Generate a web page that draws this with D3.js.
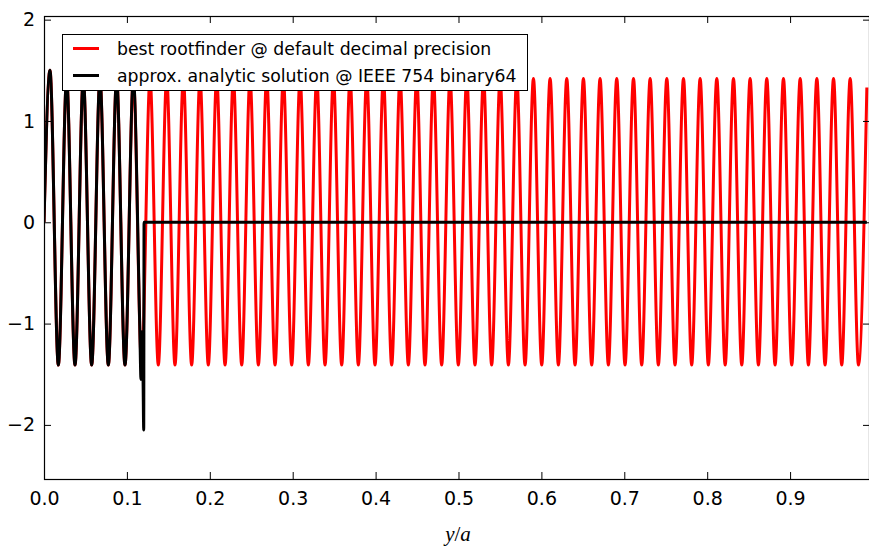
<!DOCTYPE html>
<html>
<head>
<meta charset="utf-8">
<script src="https://cdn.jsdelivr.net/npm/d3@7"></script>
<style>
  body { margin: 0; background: #fff; overflow: hidden; }
  svg { display: block; }
  .tick text { font-family: "DejaVu Sans", sans-serif; font-size: 19px; fill: #000; }
  .tick line { stroke: #000; stroke-width: 1; }
</style>
</head>
<body>
<div id="chart"></div>
<script>
// extrema of the red curve (start, then peak / trough alternating)
const redX = [0,
  0.0072, 0.0173, 0.0273, 0.0374, 0.0474, 0.0575, 0.0675, 0.0776, 0.0876, 0.0977,
  0.1078, 0.1178, 0.1279, 0.1379, 0.1480, 0.1580, 0.1681, 0.1781, 0.1882, 0.1982,
  0.2083, 0.2184, 0.2284, 0.2385, 0.2485, 0.2586, 0.2686, 0.2787, 0.2887, 0.2988,
  0.3089, 0.3189, 0.3290, 0.3390, 0.3491, 0.3591, 0.3692, 0.3792, 0.3893, 0.3993,
  0.4094, 0.4194, 0.4295, 0.4395, 0.4496, 0.4596, 0.4697, 0.4797, 0.4898, 0.4998,
  0.5100, 0.5199, 0.5302, 0.5400, 0.5502, 0.5602, 0.5703, 0.5803, 0.5904, 0.6004,
  0.6105, 0.6205, 0.6306, 0.6406, 0.6507, 0.6607, 0.6708, 0.6808, 0.6909, 0.7009,
  0.7111, 0.7210, 0.7312, 0.7411, 0.7513, 0.7612, 0.7714, 0.7813, 0.7915, 0.8014,
  0.8116, 0.8217, 0.8317, 0.8417, 0.8518, 0.8618, 0.8719, 0.8819, 0.8920, 0.9020,
  0.9122, 0.9221, 0.9323, 0.9422, 0.9524, 0.9623, 0.9725, 0.9825, 0.9926];
const redY = [0,
  1.50, -1.41, 1.42, -1.41, 1.42, -1.41, 1.42, -1.41, 1.42, -1.41,
  1.42, -1.41, 1.42, -1.41, 1.42, -1.41, 1.42, -1.41, 1.42, -1.41,
  1.42, -1.41, 1.42, -1.41, 1.42, -1.41, 1.42, -1.41, 1.42, -1.41,
  1.42, -1.41, 1.42, -1.41, 1.42, -1.41, 1.42, -1.41, 1.42, -1.41,
  1.42, -1.41, 1.42, -1.41, 1.42, -1.41, 1.42, -1.41, 1.42, -1.41,
  1.42, -1.41, 1.42, -1.41, 1.42, -1.41, 1.42, -1.41, 1.42, -1.41,
  1.42, -1.41, 1.42, -1.41, 1.42, -1.41, 1.42, -1.41, 1.42, -1.41,
  1.42, -1.41, 1.42, -1.41, 1.42, -1.41, 1.42, -1.41, 1.42, -1.41,
  1.42, -1.41, 1.42, -1.41, 1.42, -1.41, 1.42, -1.41, 1.42, -1.41,
  1.42, -1.41, 1.42, -1.41, 1.42, -1.41, 1.42, -1.41, 1.33];

// black curve: follows the red one, breaks down near y/a = 0.12, then flat zero
const blackX = [0, 0.0072, 0.0173, 0.0273, 0.0374, 0.0474, 0.0575, 0.0675, 0.0776, 0.0876,
  0.0977, 0.1078, 0.1155, 0.1170, 0.1182, 0.1195, 0.1203, 0.1207, 0.9926];
const blackY = [0, 1.50, -1.41, 1.42, -1.41, 1.42, -1.41, 1.42, -1.41, 1.42,
  -1.41, 1.42, -1.02, -1.55, -1.08, -1.55, -2.05, 0, 0];

const xTicks = [0, 0.1, 0.2, 0.3, 0.4, 0.5, 0.6, 0.7, 0.8, 0.9];
const yTicks = [-2, -1, 0, 1, 2];
const legendLabels = ["best rootfinder @ default decimal precision",
                      "approx. analytic solution @ IEEE 754 binary64"];
const legendColors = ["#ff0000", "#000000"];

const W = 869, H = 547;
const mLeft = 44, mRight = 870, mTop = 16, mBottom = 479;

var svg = d3.select("#chart").append("svg")
    .attr("width", W)
    .attr("height", H);

var x = d3.scaleLinear().domain([0, 0.9964]).range([mLeft, mRight]);
var y = d3.scaleLinear().domain([-2.534, 2.036]).range([mBottom, mTop]);

svg.append("clipPath").attr("id", "plotclip")
  .append("rect")
    .attr("x", mLeft).attr("y", mTop)
    .attr("width", mRight - mLeft).attr("height", mBottom - mTop);

var line = d3.line()
    .x(function(d) { return x(d[0]); })
    .y(function(d) { return y(d[1]); })
    .curve(d3.curveMonotoneX);

var redData = redX.map(function(v, i) { return [v, redY[i]]; });
var blackData = blackX.map(function(v, i) { return [v, blackY[i]]; });

var plot = svg.append("g").attr("clip-path", "url(#plotclip)");

plot.append("path")
    .datum(redData)
    .attr("d", line)
    .attr("fill", "none")
    .attr("stroke", legendColors[0])
    .attr("stroke-width", 3)
    .attr("stroke-linejoin", "round");

plot.append("path")
    .datum(blackData)
    .attr("d", line)
    .attr("fill", "none")
    .attr("stroke", legendColors[1])
    .attr("stroke-width", 3)
    .attr("stroke-linejoin", "round");

// axes, ticks pointing inward on all four sides
svg.append("g")
    .attr("transform", "translate(0," + mBottom + ")")
    .call(d3.axisBottom(x).tickValues(xTicks).tickFormat(d3.format(".1f"))
      .tickSizeInner(-7).tickSizeOuter(0).tickPadding(13))
    .call(function(g) { g.select(".domain").remove(); });

svg.append("g")
    .attr("transform", "translate(0," + mTop + ")")
    .call(d3.axisTop(x).tickValues(xTicks).tickFormat("")
      .tickSizeInner(-7).tickSizeOuter(0))
    .call(function(g) { g.select(".domain").remove(); });

svg.append("g")
    .attr("transform", "translate(" + mLeft + ",0)")
    .call(d3.axisLeft(y).tickValues(yTicks).tickFormat(d3.format("d"))
      .tickSizeInner(-7).tickSizeOuter(0).tickPadding(9))
    .call(function(g) { g.select(".domain").remove(); });

svg.append("g")
    .attr("transform", "translate(" + mRight + ",0)")
    .call(d3.axisRight(y).tickValues(yTicks).tickFormat("")
      .tickSizeInner(-7).tickSizeOuter(0))
    .call(function(g) { g.select(".domain").remove(); });

svg.selectAll(".tick text").attr("font-size", null).attr("font-family", null);

// frame
svg.append("rect")
    .attr("x", mLeft + 0.5).attr("y", mTop + 0.5)
    .attr("width", mRight - mLeft - 1).attr("height", mBottom - mTop)
    .attr("fill", "none")
    .attr("stroke", "#000")
    .attr("stroke-width", 1.2);

// legend
var lg = svg.append("g").attr("transform", "translate(62,34)");
lg.append("rect")
    .attr("x", 0.5).attr("y", 0.5)
    .attr("width", 465).attr("height", 56)
    .attr("fill", "#fff")
    .attr("stroke", "#000")
    .attr("stroke-width", 1);

legendLabels.forEach(function(label, i) {
  var ly = 14.5 + i * 27;
  lg.append("line")
      .attr("x1", 11).attr("x2", 37)
      .attr("y1", ly).attr("y2", ly)
      .attr("stroke", legendColors[i])
      .attr("stroke-width", 3);
  lg.append("text")
      .attr("x", 55).attr("y", ly)
      .attr("dy", "0.35em")
      .style("font-family", "'DejaVu Sans', sans-serif")
      .style("font-size", "17.3px")
      .text(label);
});

// x label y/a
var xl = svg.append("text")
    .attr("x", 458)
    .attr("y", 541)
    .attr("text-anchor", "middle")
    .style("font-family", "'Liberation Serif', serif")
    .style("font-size", "21px");
xl.append("tspan").style("font-style", "italic").text("y");
xl.append("tspan").text("/");
xl.append("tspan").style("font-style", "italic").text("a");
</script>
</body>
</html>
